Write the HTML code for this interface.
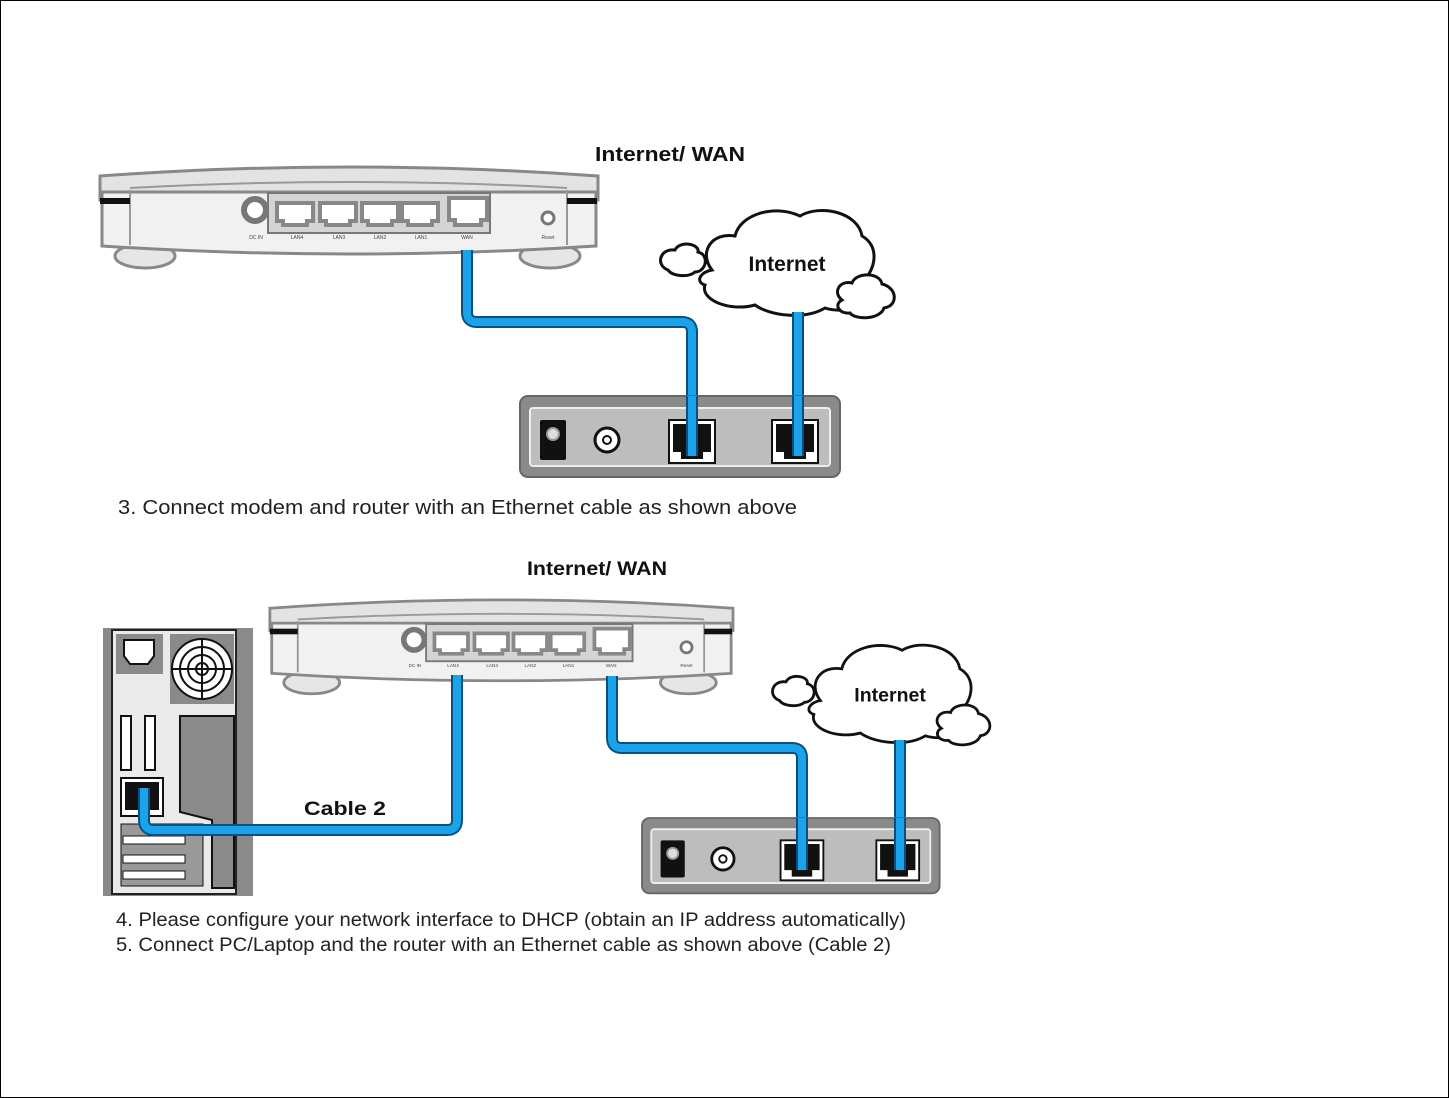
<!DOCTYPE html>
<html><head><meta charset="utf-8"><style>
html,body{margin:0;padding:0;background:#fff}
svg{display:block}
</style></head><body>
<svg width="1449" height="1098" viewBox="0 0 1449 1098" xmlns="http://www.w3.org/2000/svg" font-family="Liberation Sans, sans-serif">
<rect x="0.5" y="0.5" width="1448" height="1097" fill="#fff" stroke="#000" stroke-width="1"/>
<defs>
<g id="router">
  <ellipse cx="145" cy="256" rx="30" ry="12" fill="#e6e6e6" stroke="#888" stroke-width="3"/>
  <ellipse cx="550" cy="256" rx="30" ry="12" fill="#e6e6e6" stroke="#888" stroke-width="3"/>
  <path d="M100,176 Q350,158 598,176 L598,200 L100,200 Z" fill="#e3e3e3" stroke="#888" stroke-width="3"/>
  <path d="M102,192 L102,246 Q350,262 596,246 L596,192 Z" fill="#f1f1f1" stroke="#888" stroke-width="3"/>
  <path d="M130,190 L130,245 M567,190 L567,245" stroke="#999" stroke-width="2" fill="none"/>
  <path d="M130,188 Q350,176 567,188" stroke="#999" stroke-width="2" fill="none"/>
  <rect x="100" y="198" width="30" height="6" fill="#111"/>
  <rect x="567" y="198" width="30" height="6" fill="#111"/>
  <circle cx="255" cy="210" r="11" fill="#fff" stroke="#777" stroke-width="6"/>
  <rect x="268" y="193" width="222" height="40" fill="#d4d4d4" stroke="#777" stroke-width="2"/>
  <g fill="#fff" stroke="#888" stroke-width="4">
    <path d="M277,203 h36 v18 h-6 v4 h-24 v-4 h-6 z"/>
    <path d="M320,203 h36 v18 h-6 v4 h-24 v-4 h-6 z"/>
    <path d="M362,203 h36 v18 h-6 v4 h-24 v-4 h-6 z"/>
    <path d="M402,203 h36 v18 h-6 v4 h-24 v-4 h-6 z"/>
    <path d="M449,198 h38 v22 h-6 v5 h-26 v-5 h-6 z"/>
  </g>
  <circle cx="548" cy="218" r="6" fill="#fff" stroke="#777" stroke-width="3"/>
  <g font-size="5" fill="#444" text-anchor="middle">
    <text x="256" y="239">DC IN</text><text x="297" y="239">LAN4</text><text x="339" y="239">LAN3</text>
    <text x="380" y="239">LAN2</text><text x="421" y="239">LAN1</text><text x="467" y="239">WAN</text><text x="548" y="239">Reset</text>
  </g>
</g>
<g id="modem">
  <rect x="520" y="396" width="320" height="81" rx="8" fill="#8a8a8a" stroke="#666" stroke-width="2"/>
  <rect x="530" y="408" width="300" height="58" rx="3" fill="#bdbdbd" stroke="#eee" stroke-width="2"/>
  <rect x="540" y="420" width="26" height="40" rx="2" fill="#111"/>
  <circle cx="553" cy="434" r="6" fill="#ddd" stroke="#999" stroke-width="2"/>
  <circle cx="607" cy="440" r="12" fill="#fff" stroke="#111" stroke-width="3"/>
  <circle cx="607" cy="440" r="4" fill="#fff" stroke="#111" stroke-width="2"/>
  <rect x="669" y="420" width="46" height="43" fill="#fff" stroke="#111" stroke-width="2"/>
  <path d="M673,424 h38 v28 h-8 v7 h-22 v-7 h-8 z" fill="#111"/>
  <rect x="772" y="420" width="46" height="43" fill="#fff" stroke="#111" stroke-width="2"/>
  <path d="M776,424 h38 v28 h-8 v7 h-22 v-7 h-8 z" fill="#111"/>
</g>
<g id="cloud">
  <path d="M712,270 C698,252 712,232 735,236 C740,214 775,204 800,216 C820,204 858,212 862,236 C880,246 876,270 862,282 C872,300 850,316 825,308 C805,320 770,316 755,305 C730,312 700,300 705,285 C695,282 700,272 712,270 Z" fill="#fff" stroke="#111" stroke-width="3"/>
  <path d="M668,270 C655,265 660,248 675,250 C680,240 700,244 698,252 C710,255 706,272 695,272 C688,278 672,276 668,270 Z" fill="#fff" stroke="#111" stroke-width="3"/>
  <path d="M842,300 C832,292 840,280 852,283 C856,272 880,272 882,284 C898,288 898,306 884,308 C880,320 855,320 850,313 C838,314 834,304 842,300 Z" fill="#fff" stroke="#111" stroke-width="3"/>
  <text x="787" y="271" font-size="21" font-weight="bold" fill="#111" text-anchor="middle">Internet</text>
</g>
</defs>

<text x="595" y="161" font-size="20" font-weight="bold" fill="#111" textLength="150" lengthAdjust="spacingAndGlyphs">Internet/ WAN</text>
<use href="#router"/>
<use href="#cloud"/>
<g fill="none" stroke-linecap="butt">
  <path d="M467,250 V312 Q467,322 477,322 H682 Q692,322 692,332 V456" stroke="#0b4f80" stroke-width="12"/>
  <path d="M467,250 V312 Q467,322 477,322 H682 Q692,322 692,332 V456" stroke="#1ba3ea" stroke-width="8"/>
  <path d="M798,312 V456" stroke="#0b4f80" stroke-width="12"/>
  <path d="M798,312 V456" stroke="#1ba3ea" stroke-width="8"/>
</g>
<use href="#modem"/>
<g fill="none"><path d="M692,396 V456" stroke="#0b4f80" stroke-width="12"/><path d="M692,396 V456" stroke="#1ba3ea" stroke-width="8"/>
<path d="M798,396 V456" stroke="#0b4f80" stroke-width="12"/><path d="M798,396 V456" stroke="#1ba3ea" stroke-width="8"/></g>
<text x="118" y="514" font-size="20" fill="#222" textLength="679" lengthAdjust="spacingAndGlyphs">3. Connect modem and router with an Ethernet cable as shown above</text>

<text x="527" y="575" font-size="19" font-weight="bold" fill="#111" textLength="140" lengthAdjust="spacingAndGlyphs">Internet/ WAN</text>
<g transform="translate(268,598) scale(0.93) translate(-98,-165)"><use href="#router"/></g>
<g transform="translate(772,640) scale(0.93) translate(-660,-205)"><use href="#cloud"/></g>
<g>
  <rect x="103" y="628" width="150" height="268" fill="#8a8a8a"/>
  <rect x="112" y="630" width="124" height="264" fill="#eaeaea" stroke="#222" stroke-width="2"/>
  <rect x="116" y="634" width="47" height="40" fill="#8a8a8a"/>
  <path d="M124,640 h30 v16 l-6,8 h-18 l-6,-8 z" fill="#fff" stroke="#111" stroke-width="2"/>
  <rect x="170" y="634" width="64" height="70" fill="#8a8a8a"/>
  <circle cx="202" cy="669" r="30" fill="#fff" stroke="#111" stroke-width="2"/>
  <circle cx="202" cy="669" r="22" fill="none" stroke="#111" stroke-width="2"/>
  <circle cx="202" cy="669" r="14" fill="none" stroke="#111" stroke-width="2"/>
  <circle cx="202" cy="669" r="6" fill="none" stroke="#111" stroke-width="2"/>
  <path d="M172,669 H232 M202,639 V699" stroke="#111" stroke-width="2"/>
  <rect x="121" y="716" width="10" height="54" fill="#fff" stroke="#111" stroke-width="2"/>
  <rect x="145" y="716" width="10" height="54" fill="#fff" stroke="#111" stroke-width="2"/>
  <path d="M180,716 H234 V888 H212 V820 L180,812 Z" fill="#8a8a8a" stroke="#111" stroke-width="2"/>
  <rect x="121" y="778" width="42" height="38" fill="#fff" stroke="#111" stroke-width="2"/>
  <rect x="125" y="782" width="34" height="28" fill="#111"/>
  <rect x="121" y="824" width="82" height="62" fill="#999" stroke="#111" stroke-width="1"/>
  <rect x="123" y="836" width="62" height="8" fill="#fff" stroke="#111"/>
  <rect x="123" y="855" width="62" height="8" fill="#fff" stroke="#111"/>
  <rect x="123" y="871" width="62" height="8" fill="#fff" stroke="#111"/>
</g>
<g fill="none">
  <path d="M144,788 V820 Q144,830 154,830 H447 Q457,830 457,820 V675" stroke="#0b4f80" stroke-width="12"/>
  <path d="M144,788 V820 Q144,830 154,830 H447 Q457,830 457,820 V675" stroke="#1ba3ea" stroke-width="8"/>
  <path d="M612,676 V738 Q612,748 622,748 H792 Q802,748 802,758 V872" stroke="#0b4f80" stroke-width="12"/>
  <path d="M612,676 V738 Q612,748 622,748 H792 Q802,748 802,758 V872" stroke="#1ba3ea" stroke-width="8"/>
  <path d="M900,740 V872" stroke="#0b4f80" stroke-width="12"/>
  <path d="M900,740 V872" stroke="#1ba3ea" stroke-width="8"/>
</g>
<text x="304" y="815" font-size="19" font-weight="bold" fill="#111" textLength="82" lengthAdjust="spacingAndGlyphs">Cable 2</text>
<g transform="translate(642,818) scale(0.93) translate(-520,-396)"><use href="#modem"/></g>
<g fill="none"><path d="M802,818 V870" stroke="#0b4f80" stroke-width="12"/><path d="M802,818 V870" stroke="#1ba3ea" stroke-width="8"/>
<path d="M900,818 V870" stroke="#0b4f80" stroke-width="12"/><path d="M900,818 V870" stroke="#1ba3ea" stroke-width="8"/></g>
<text x="116" y="926" font-size="19" fill="#222" textLength="790" lengthAdjust="spacingAndGlyphs">4. Please configure your network interface to DHCP (obtain an IP address automatically)</text>
<text x="116" y="951" font-size="19" fill="#222" textLength="775" lengthAdjust="spacingAndGlyphs">5. Connect PC/Laptop and the router with an Ethernet cable as shown above (Cable 2)</text>
</svg>
</body></html>
